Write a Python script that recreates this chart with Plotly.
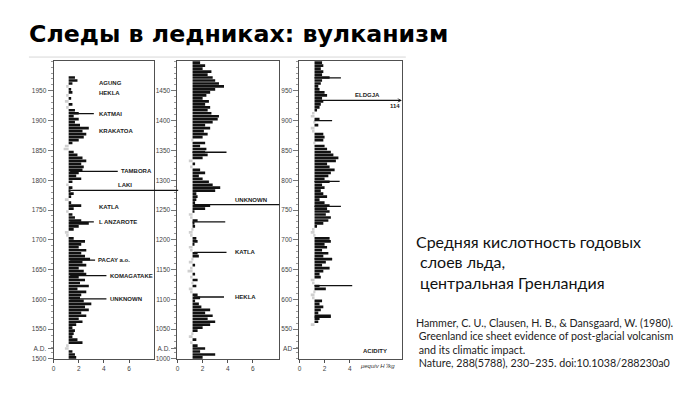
import plotly.graph_objects as go

# ---------------- DATA ----------------
# 5-year bins (bin start year), mean acidity (micro-equiv H+/kg)
years_1 = list(range(1500, 1975, 5))
acid_1 = [1.8, 1.7, 1.5, 0.9, 1.0, 2.3, 1.9, 1.5, 1.6, 1.7,
          1.5, 1.8, 2.3, 2.0, 2.6, 2.2, 2.8, 2.5, 3.0, 2.4,
          2.1, 2.2, 2.6, 1.9, 2.8, 2.1, 2.5, 2.0, 2.6, 2.4,
          2.0, 2.6, 2.3, 2.9, 2.5, 2.2, 2.6, 2.0, 2.2, 2.5,
          1.6, 1.0, 0.9, 1.6, 2.0, 2.8, 2.2, 1.7, 1.5, 1.0,
          1.6, 2.2, 1.4, 0.9, 1.4, 1.6, 1.3, 1.5, 1.0, 1.5,
          2.2, 1.8, 2.0, 2.3, 2.4, 2.2, 2.6, 2.3, 1.9, 1.6,
          0.8, 0.9, 1.5, 2.0, 2.4, 2.6, 2.3, 2.8, 2.1, 1.7,
          2.0, 1.6, 2.0, 1.7, 1.0, 1.5, 0.9, 1.4, 1.0, 1.5,
          1.4, 1.0, 1.5, 1.9, 1.7]

years_2 = list(range(1000, 1500, 5))
acid_2 = [2.0, 3.0, 1.8, 2.2, 1.6, 1.0, 1.5, 0.9, 1.1, 1.6,
          2.0, 2.6, 3.0, 2.4, 2.8, 2.2, 2.6, 1.9, 1.7, 1.4,
          1.8, 1.6, 1.0, 0.9, 1.5, 1.1, 1.6, 1.0, 1.4, 0.8,
          1.0, 1.4, 0.9, 1.1, 1.7, 1.6, 1.0, 0.9, 1.3, 1.6,
          1.5, 1.0, 0.9, 1.1, 1.4, 1.3, 1.6, 1.0, 0.9, 1.3,
          2.2, 2.6, 1.4, 1.5, 1.6, 1.5, 3.0, 3.4, 2.8, 2.5,
          2.0, 1.7, 2.2, 1.8, 1.0, 1.4, 0.9, 2.0, 2.4, 2.2,
          2.3, 1.8, 2.2, 1.1, 2.0, 2.4, 2.1, 2.6, 2.2, 2.8,
          3.2, 3.3, 2.7, 2.4, 2.6, 2.2, 2.5, 2.0, 2.3, 2.6,
          3.0, 3.7, 3.3, 3.0, 2.8, 2.4, 2.7, 2.0, 2.2, 1.8]

years_3 = list(range(555, 1000, 5))
acid_3 = [0.9, 1.5, 1.6, 2.5, 1.5, 1.7, 1.9, 1.6, 1.8,
          1.0, 0.9, 1.1, 2.1, 1.6, 1.0, 0.9, 1.7, 1.6, 1.9,
          2.4, 1.8, 2.1, 2.6, 1.9, 2.3, 1.8, 2.2, 2.0, 2.5,
          2.4, 1.1, 0.9, 1.0, 1.4, 1.9, 2.3, 2.5, 2.1, 2.4,
          2.2, 2.4, 2.0, 1.6, 2.2, 1.9, 1.7, 2.0, 1.8, 2.4,
          2.0, 2.3, 2.5, 2.8, 2.4, 2.2, 2.9, 3.1, 2.7, 2.5,
          2.2, 2.0, 1.1, 1.9, 2.0, 1.9, 1.0, 0.9, 1.5, 1.1,
          1.6, 0.9, 1.0, 1.4, 1.6, 1.7, 1.9, 1.8, 2.2, 2.0,
          1.6, 1.5, 1.7, 1.8, 2.4, 1.8, 1.9, 1.7, 1.9, 1.8]

# unlabelled single-year acidity spikes
spike_years_2 = [1230, 1347]
spike_peaks_2 = [3.8, 3.9]
spike_years_3 = [570, 623, 668, 756, 798, 900, 972]
spike_peaks_3 = [2.5, 4.2, 2.6, 3.3, 3.2, 2.6, 3.3]

# named eruptions
event_names = ["AGUNG", "HEKLA", "KATMAI", "KRAKATOA", "TAMBORA", "LAKI", "KATLA",
               "L ANZAROTE", "PACAY a.o.", "KOMAGATAKE", "UNKNOWN",
               "UNKNOWN", "KATLA", "HEKLA", "ELDGJA"]
event_years = [1963, 1947, 1912, 1883, 1815, 1783, 1755, 1730, 1666, 1640, 1601,
               1259, 1179, 1104, 934]
event_peaks = [None, None, 3.2, None, 5.1, 9.9, None, 3.2, 3.3, 4.2, 4.2,
               8.1, 3.9, 3.7, 114]
event_panel = [1, 1, 1, 1, 1, 1, 1, 1, 1, 1, 1, 2, 2, 2, 3]

ytick_vals_1 = [1500, 1517, 1550, 1600, 1650, 1700, 1750, 1800, 1850, 1900, 1950]
ytick_text_1 = ["1500", "A.D.", "1550", "1600", "1650", "1700", "1750", "1800", "1850", "1900", "1950"]
ytick_vals_2 = [1000, 1017, 1050, 1100, 1150, 1200, 1250, 1300, 1350, 1400, 1450]
ytick_text_2 = ["1000", "A.D.", "1050", "1100", "1150", "1200", "1250", "1300", "1350", "1400", "1450"]
ytick_vals_3 = [517, 550, 600, 650, 700, 750, 800, 850, 900, 950]
ytick_text_3 = ["AD", "550", "600", "650", "700", "750", "800", "850", "900", "950"]

# ---------------- STYLE ----------------
W, H = 700, 394
BASE = 1.2
BIN = 5
BLACK = "#111111"
GREY = "#cfcfcf"
FRAME = "#505050"
TICKFONT = dict(family="Liberation Sans", size=6.5, color="#444444")
LABFONT = dict(family="Liberation Sans", size=6, color="#222222")

def px(x):
    return x / W

def py(y):
    return 1 - y / H

panels = {
    1: dict(xd=[51.7, 152.7], xr=[0, 8.0], yr=[1500, 2001]),
    2: dict(xd=[176.0, 277.7], xr=[0, 8.07], yr=[1000, 1501]),
    3: dict(xd=[298.3, 401.0], xr=[0, 8.15], yr=[500, 1001]),
}
YD = [py(361.7), py(61)]

label_style = [
    dict(lx=3.44), dict(lx=3.44), dict(lx=3.44), dict(lx=3.44), dict(lx=5.16),
    dict(lx=5.0, above=True), dict(lx=3.44), dict(lx=3.44), dict(lx=3.36),
    dict(lx=4.31), dict(lx=4.31),
    dict(lx=4.44, above=True), dict(lx=4.42), dict(lx=4.42),
    dict(lx=4.3, above=True, arrow=True),
]

fig = go.Figure()

series = {1: (years_1, acid_1), 2: (years_2, acid_2), 3: (years_3, acid_3)}
for p, (yrs, vals) in series.items():
    xa = "x" if p == 1 else f"x{p}"
    ya = "y" if p == 1 else f"y{p}"
    fig.add_trace(go.Bar(
        orientation="h",
        y=[yv + BIN / 2 for yv in yrs],
        x=[v - BASE for v in vals],
        base=BASE,
        width=BIN * 0.9,
        marker=dict(color=[BLACK if v >= BASE else GREY for v in vals], line=dict(width=0)),
        xaxis=xa, yaxis=ya, showlegend=False, hoverinfo="skip",
    ))

for p, (sy, sp) in {2: (spike_years_2, spike_peaks_2), 3: (spike_years_3, spike_peaks_3)}.items():
    xs, ys = [], []
    for yv, pk in zip(sy, sp):
        xs += [BASE, pk, None]
        ys += [yv, yv, None]
    fig.add_trace(go.Scatter(x=xs, y=ys, mode="lines", line=dict(color=BLACK, width=1.3),
                             xaxis=f"x{p}", yaxis=f"y{p}", showlegend=False, hoverinfo="skip"))

annotations = []
for name, yr, pk, p, st in zip(event_names, event_years, event_peaks, event_panel, label_style):
    xr = "x" if p == 1 else f"x{p}"
    yrf = "y" if p == 1 else f"y{p}"
    xmax = panels[p]["xr"][1]
    if pk is not None:
        head = min(pk, xmax) if st.get("arrow") else pk
        annotations.append(dict(
            x=head, y=yr, ax=BASE, ay=yr, xref=xr, yref=yrf, axref=xr, ayref=yrf,
            text="", showarrow=True, arrowhead=3 if st.get("arrow") else 0,
            arrowsize=0.6, arrowwidth=1.3, arrowcolor=BLACK, standoff=0, startstandoff=0))
    if st.get("above"):
        annotations.append(dict(x=st["lx"], y=yr, xref=xr, yref=yrf, text=f"<b>{name}</b>",
                                showarrow=False, xanchor="left", yanchor="bottom", yshift=0,
                                font=LABFONT))
    else:
        annotations.append(dict(x=st["lx"], y=yr, xref=xr, yref=yrf, text=f"<b>{name}</b>",
                                showarrow=False, xanchor="left", yanchor="middle",
                                font=LABFONT))
    if st.get("arrow"):
        annotations.append(dict(x=xmax, y=yr, xref=xr, yref=yrf, text=f"<b>{pk}</b>",
                                showarrow=False, xanchor="right", yanchor="top", yshift=-1,
                                font=LABFONT))

# panel 3 extras
annotations.append(dict(x=4.9, y=513, xref="x3", yref="y3", text="<b>ACIDITY</b>",
                        showarrow=False, xanchor="left", yanchor="middle", font=LABFONT))
annotations.append(dict(x=4.65, y=0, xref="x3", yref="y3 domain", text="<i>μequiv H⁺/kg</i>",
                        showarrow=False, xanchor="left", yanchor="top", yshift=-2,
                        font=dict(family="Liberation Sans", size=6, color="#333")))

# slide title
annotations.append(dict(x=px(25), y=py(34), xref="paper", yref="paper",
                        text="<b>Следы в ледниках: вулканизм</b>", showarrow=False,
                        xanchor="left", yanchor="middle",
                        font=dict(family="DejaVu Sans", size=23.7, color="#000")))

body = dict(family="Lato", size=16, color="#111")
for txt, xx, yy in [("Средняя кислотность годовых", 413, 243),
                    (" слоев льда,", 413, 264),
                    (" центральная Гренландия", 413, 285)]:
    annotations.append(dict(x=px(xx), y=py(yy), xref="paper", yref="paper", text=txt,
                            showarrow=False, xanchor="left", yanchor="middle", font=body))

cite = dict(family="Lato", size=10.7, color="#222")
for txt, xx, yy in [("Hammer, C. U., Clausen, H. B., & Dansgaard, W. (1980).", 413, 325),
                    (" Greenland ice sheet evidence of post-glacial volcanism", 413, 338.5),
                    (" and its climatic impact.", 413, 352),
                    (" Nature, 288(5788), 230–235. doi:10.1038/288230a0", 413, 365.5)]:
    annotations.append(dict(x=px(xx), y=py(yy), xref="paper", yref="paper", text=txt,
                            showarrow=False, xanchor="left", yanchor="middle", font=cite))

layout = dict(
    width=W, height=H, margin=dict(l=0, r=0, t=0, b=0),
    paper_bgcolor="white", plot_bgcolor="white", barmode="overlay",
    annotations=annotations,
    shapes=[dict(type="line", xref="paper", yref="paper", x0=px(27), x1=px(405),
                 y0=py(57.5), y1=py(57.5), line=dict(color="#d8d8d8", width=1))],
)

ytv = {1: (ytick_vals_1, ytick_text_1), 2: (ytick_vals_2, ytick_text_2), 3: (ytick_vals_3, ytick_text_3)}
for p, cfg in panels.items():
    xk = "xaxis" if p == 1 else f"xaxis{p}"
    yk = "yaxis" if p == 1 else f"yaxis{p}"
    ya = "y" if p == 1 else f"y{p}"
    xa = "x" if p == 1 else f"x{p}"
    layout[xk] = dict(domain=[px(cfg["xd"][0]), px(cfg["xd"][1])], range=cfg["xr"], anchor=ya,
                      tickvals=[0, 2, 4] if p == 3 else [0, 2, 4, 6], ticks="outside", ticklen=3,
                      tickcolor=FRAME, showline=True, linecolor=FRAME, linewidth=1, mirror=True,
                      showgrid=False, zeroline=False, tickfont=TICKFONT, fixedrange=True)
    layout[yk] = dict(domain=YD, range=cfg["yr"], anchor=xa,
                      tickvals=ytv[p][0], ticktext=ytv[p][1], ticks="outside", ticklen=5,
                      tickcolor="#777", showline=True, linecolor=FRAME, linewidth=1, mirror=True,
                      showgrid=False, zeroline=False, tickfont=TICKFONT,
                      minor=dict(dtick=10, ticklen=2, ticks="outside", tickcolor="#999"))

fig.update_layout(**layout)
fig.write_html("out.html", config={"displayModeBar": False},
               post_script="document.body.style.margin='0';document.body.style.overflow='hidden';")
